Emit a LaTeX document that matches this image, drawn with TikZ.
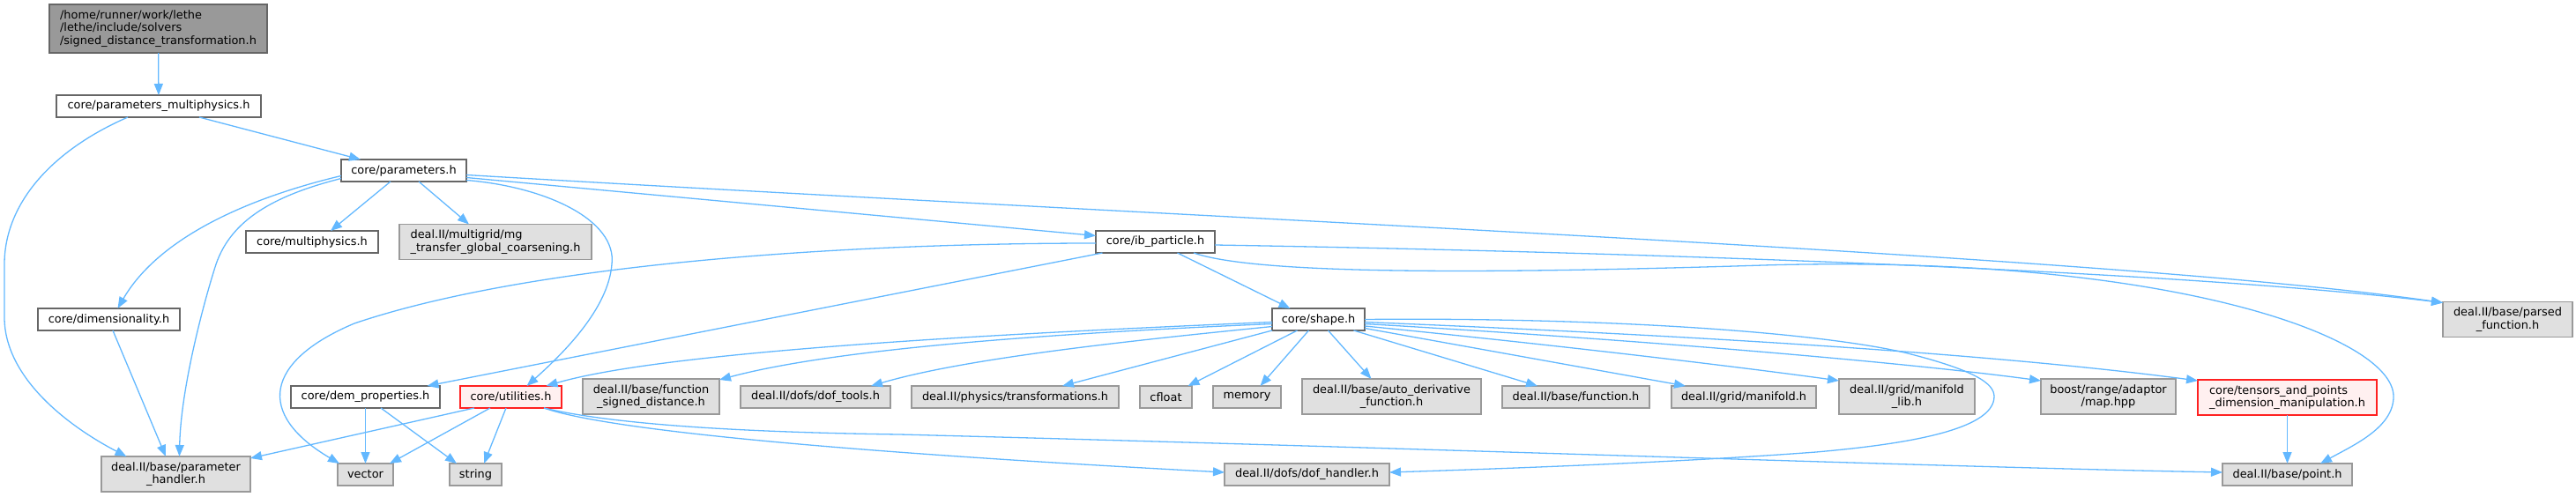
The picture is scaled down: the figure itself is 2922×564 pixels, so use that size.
\documentclass[tikz,border=0pt]{standalone}
\usepackage{fontspec}
\setmainfont{DejaVu Sans}
\usetikzlibrary{arrows.meta}
\definecolor{edgec}{HTML}{63B8FF}
\definecolor{gfill}{HTML}{E0E0E0}
\definecolor{gborder}{HTML}{999999}
\definecolor{wborder}{HTML}{666666}
\definecolor{rootfill}{HTML}{999999}
\definecolor{rfill}{HTML}{FFF0F0}
\definecolor{rborder}{HTML}{FF2020}
\begin{document}
\begin{tikzpicture}[x=1pt,y=-1pt,
  every node/.style={font=\fontsize{12.9}{14.6}\selectfont, inner sep=0pt, outer sep=0pt, line width=1.3pt, align=center},
  wbox/.style={draw=wborder, fill=white},
  gbox/.style={draw=gborder, fill=gfill},
  rbox/.style={draw=rborder, fill=rfill},
  rootbox/.style={draw=wborder, fill=rootfill},
  dep/.style={draw=edgec, line width=1.3pt, -{Triangle[length=13pt,width=10pt]}},
]
\useasboundingbox (0,0) rectangle (2922,564);

% nodes
\node[rootbox, minimum width=247pt, minimum height=55pt, align=left] (root) at (179.5,32.5) {/home/runner/work/lethe\\/lethe/include/solvers\\/signed\_distance\_transformation.h};
\node[wbox, minimum width=232pt, minimum height=25pt] (pm) at (180,120.5) {core/parameters\_multiphysics.h};
\node[wbox, minimum width=142pt, minimum height=25pt] (par) at (458,193.5) {core/parameters.h};
\node[wbox, minimum width=150pt, minimum height=25pt] (mph) at (354,274.5) {core/multiphysics.h};
\node[gbox, minimum width=218pt, minimum height=40pt, align=left] (mg) at (562,274.5) {deal.II/multigrid/mg\\\_transfer\_global\_coarsening.h};
\node[wbox, minimum width=135pt, minimum height=25pt] (ib) at (1310.5,274.5) {core/ib\_particle.h};
\node[wbox, minimum width=161pt, minimum height=25pt] (dim) at (123.5,362.5) {core/dimensionality.h};
\node[wbox, minimum width=105pt, minimum height=25pt] (shape) at (1495.5,362.5) {core/shape.h};
\node[gbox, minimum width=147pt, minimum height=40pt] (parsed) at (2844.5,362.5) {deal.II/base/parsed\\\_function.h};

\node[wbox, minimum width=169pt, minimum height=25pt] (dem) at (414.5,450.5) {core/dem\_properties.h};
\node[rbox, minimum width=115pt, minimum height=25pt] (util) at (579.5,450.5) {core/utilities.h};
\node[gbox, minimum width=155pt, minimum height=40pt] (fsd) at (738.5,450) {deal.II/base/function\\\_signed\_distance.h};
\node[gbox, minimum width=170pt, minimum height=25pt] (doft) at (925,450.5) {deal.II/dofs/dof\_tools.h};
\node[gbox, minimum width=235pt, minimum height=25pt] (trans) at (1151.5,450.5) {deal.II/physics/transformations.h};
\node[gbox, minimum width=59pt, minimum height=25pt] (cfloat) at (1322.5,450.5) {cfloat};
\node[gbox, minimum width=77pt, minimum height=25pt] (memory) at (1414.5,450.5) {memory};
\node[gbox, minimum width=203pt, minimum height=40pt] (autod) at (1578.5,450) {deal.II/base/auto\_derivative\\\_function.h};
\node[gbox, minimum width=167pt, minimum height=25pt] (func) at (1787.5,450.5) {deal.II/base/function.h};
\node[gbox, minimum width=164pt, minimum height=25pt] (manif) at (1978,450.5) {deal.II/grid/manifold.h};
\node[gbox, minimum width=154pt, minimum height=40pt] (maniflib) at (2163,450) {deal.II/grid/manifold\\\_lib.h};
\node[gbox, minimum width=153pt, minimum height=40pt] (boost) at (2391.5,450) {boost/range/adaptor\\/map.hpp};
\node[rbox, minimum width=203pt, minimum height=40pt, align=left] (tens) at (2594.5,451) {core/tensors\_and\_points\\\_dimension\_manipulation.h};

\node[gbox, minimum width=169pt, minimum height=40pt] (ph) at (199.5,538) {deal.II/base/parameter\\\_handler.h};
\node[gbox, minimum width=63pt, minimum height=25pt] (vector) at (414.5,538.5) {vector};
\node[gbox, minimum width=59pt, minimum height=25pt] (string) at (539.5,538.5) {string};
\node[gbox, minimum width=187pt, minimum height=25pt] (dofh) at (1482.5,538.5) {deal.II/dofs/dof\_handler.h};
\node[gbox, minimum width=147pt, minimum height=25pt] (point) at (2594.5,538.5) {deal.II/base/point.h};

% edges
\draw[dep] (root) -- (pm);
\draw[dep] ([xshift=46pt]pm.south) -- ([xshift=-49pt]par.north);
\draw[dep] ([xshift=-35pt]pm.south) .. controls (60,170) and (5,230) .. (5,300) -- (5,360) .. controls (5,430) and (80,485) .. ([xshift=-56pt]ph.north);

\draw[dep] ([xshift=-15pt]par.south) -- ([xshift=21pt]mph.north);
\draw[dep] ([xshift=17pt]par.south) -- ([xshift=-30pt]mg.north);
\draw[dep] ([yshift=-8pt]par.east) -- ([yshift=7pt]ib.west);
\draw[dep] ([yshift=-5pt]par.east) .. controls (1400,250) and (2400,290) .. ([yshift=-1pt]parsed.north west);
\draw[dep] ([yshift=-11pt]par.east) .. controls (620,212) and (700,250) .. (694,300) .. controls (690,350) and (640,400) .. ([xshift=18pt]util.north);
\draw[dep] ([yshift=-6pt]par.west) .. controls (280,225) and (180,270) .. ([xshift=10pt]dim.north);
\draw[dep] ([yshift=-9pt]par.west) .. controls (310,222) and (262,250) .. (245,300) .. controls (232,340) and (205,440) .. ([xshift=4pt]ph.north);

\draw[dep] ([xshift=4.5pt]dim.south) -- ([xshift=-11.5pt]ph.north);

\draw[dep] ([xshift=25pt]ib.south) -- ([xshift=-32pt]shape.north);
\draw[dep] ([xshift=-60pt]ib.south) -- ([xshift=70pt]dem.north);
\draw[dep] ([yshift=-1.5pt]ib.west) .. controls (950,276) and (600,300) .. (402,367) .. controls (300,410) and (290,470) .. ([xshift=2pt]vector.north west);
\draw[dep] ([yshift=-3.5pt]ib.east) .. controls (1800,285) and (2450,305) .. ([yshift=-1pt]parsed.north west);
\draw[dep] ([xshift=43.5pt]ib.south) .. controls (1420,310) and (1650,312) .. (2000,301) .. controls (2450,288) and (2715,380) .. (2715,450) .. controls (2715,485) and (2670,505) .. ([xshift=37.5pt]point.north);

\draw[dep] ([yshift=-3pt]shape.west) .. controls (1100,380) and (750,400) .. ([xshift=40pt]util.north);
\draw[dep] ([yshift=-5pt]shape.west) .. controls (1200,378) and (950,395) .. ([yshift=-1pt]fsd.north east);
\draw[dep] ([yshift=-8pt]shape.west) .. controls (1300,385) and (1100,405) .. ([xshift=63pt]doft.north);
\draw[dep] (shape.south west) -- ([xshift=53.5pt]trans.north);
\draw[dep] ([xshift=-24pt]shape.south) -- ([xshift=25pt]cfloat.north);
\draw[dep] ([xshift=-11pt]shape.south) -- ([xshift=15pt]memory.north);
\draw[dep] ([xshift=11pt]shape.south) -- ([xshift=-23pt]autod.north);
\draw[dep] ([xshift=40pt]shape.south) -- ([xshift=-43.5pt]func.north);
\draw[dep] ([yshift=-10pt]shape.east) -- ([xshift=-66pt]manif.north);
\draw[dep] ([yshift=-7.5pt]shape.east) .. controls (1800,395) and (2000,420) .. ([yshift=-2pt]maniflib.north west);
\draw[dep] ([yshift=-5pt]shape.east) .. controls (1850,385) and (2150,410) .. ([yshift=-2pt]boost.north west);
\draw[dep] ([yshift=-3pt]shape.east) .. controls (1900,380) and (2250,400) .. ([yshift=-1pt]tens.north west);
\draw[dep] (shape.east) .. controls (1800,360) and (2050,375) .. (2160,400) .. controls (2240,420) and (2262,435) .. (2262,450) .. controls (2262,490) and (2150,505) .. (2060,513) .. controls (1900,525) and (1700,532) .. ([yshift=2.5pt]dofh.east);

\draw[dep] ([xshift=-41.5pt]util.south) -- ([yshift=-2pt]ph.north east);
\draw[dep] ([xshift=-23.5pt]util.south) -- ([xshift=-4pt]vector.north east);
\draw[dep] ([xshift=-5.5pt]util.south) -- ([xshift=9.5pt]string.north);
\draw[dep] ([xshift=37.5pt]util.south) .. controls (680,485) and (900,510) .. ([yshift=2.5pt]dofh.west);
\draw[dep] ([xshift=37.5pt]util.south) .. controls (680,478) and (800,490) .. (1020,493) .. controls (1600,508) and (2200,530) .. ([yshift=2.5pt]point.west);

\draw[dep] (dem) -- (vector);
\draw[dep] ([xshift=17.5pt]dem.south) -- ([xshift=-21.5pt]string.north);

\draw[dep] (tens) -- (point);
\end{tikzpicture}
\end{document}
